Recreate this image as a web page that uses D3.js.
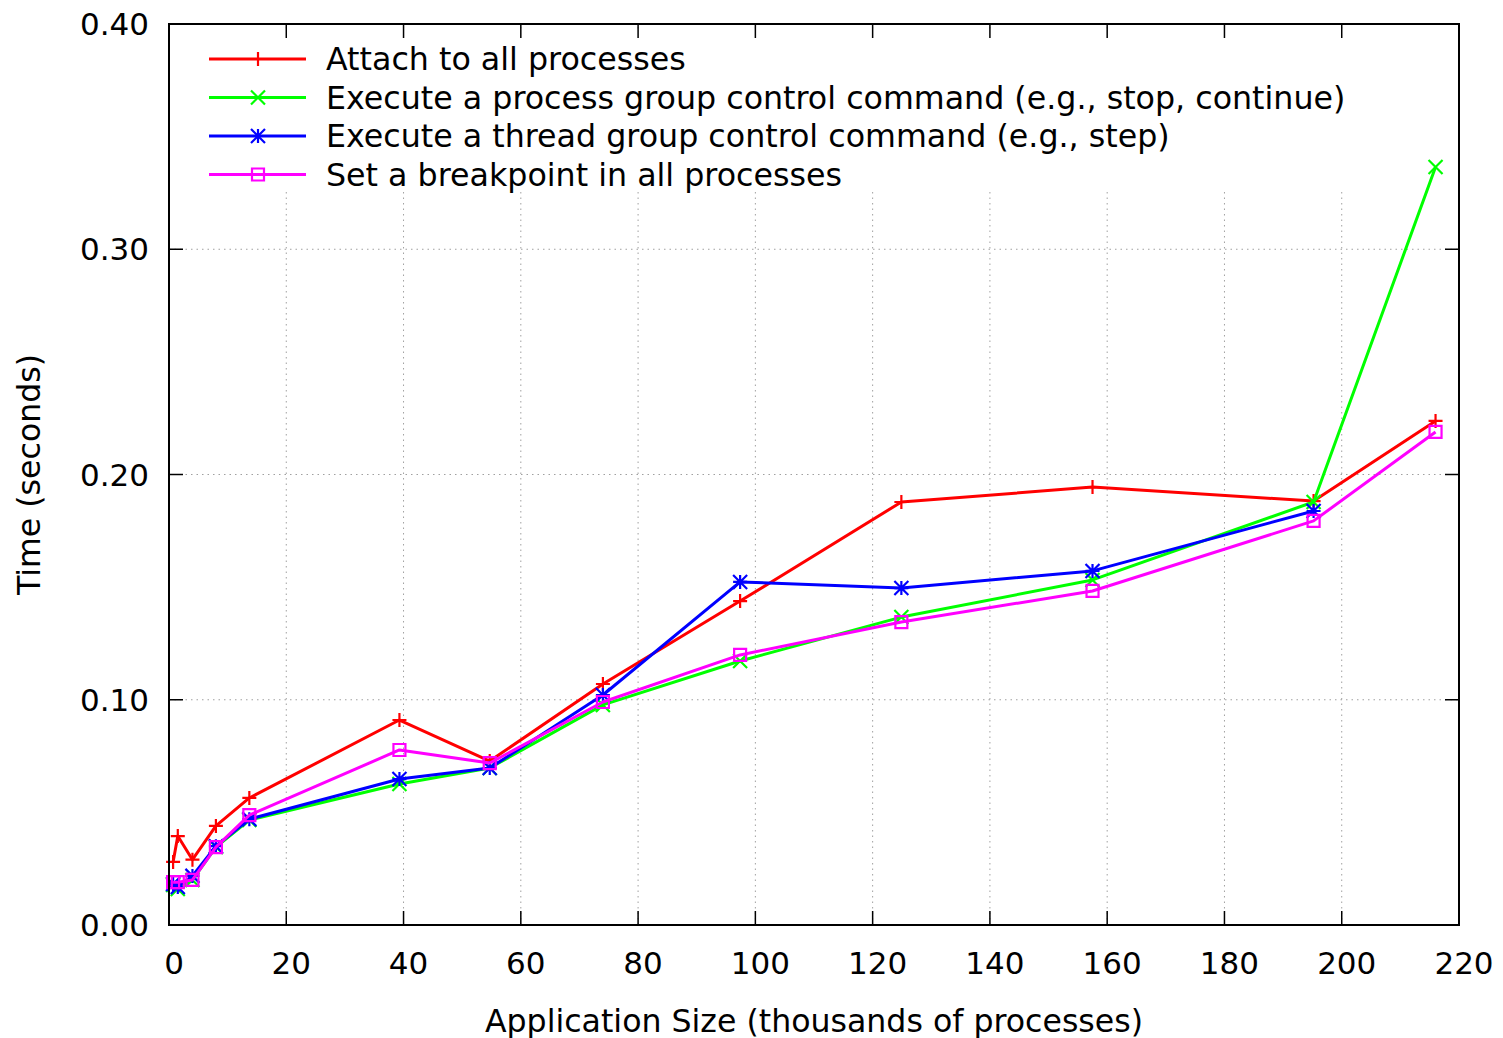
<!DOCTYPE html>
<html lang="en">
<head>
  <meta charset="utf-8">
  <title>Debugger operation time vs application size</title>
  <style>
    body { margin: 0; background: #fff; font-family: "DejaVu Sans", sans-serif; }
    .grid line { stroke: #a0a0a0; stroke-width: 1; stroke-dasharray: 1.5 4; }
    .tick-label { font-size: 31px; fill: #000; }
    .legend-label { font-size: 31.7px; fill: #000; }
    .axis-title { font-size: 31.6px; fill: #000; }
  </style>
</head>
<body>
  <svg id="chart"></svg>

  <script src="https://d3js.org/d3.v7.min.js"></script>
  <script>
    // Application size, thousands of processes
    const sizes = [0.7, 1.5, 4, 8, 13.7, 39.3, 54.7, 74, 97.4, 124.9, 157.5, 195.2, 216];

    // Time in seconds, one array per operation
    const attachAll     = [0.028, 0.0395, 0.029, 0.044, 0.0564, 0.091, 0.0728, 0.107, 0.1438, 0.1878, 0.1944, 0.1882, 0.2238];
    const processGroup  = [0.0178, 0.016, 0.020, 0.0346, 0.0466, 0.0626, 0.0697, 0.0977, 0.1172, 0.1367, 0.1532, 0.1878, 0.3365];
    const threadGroup   = [0.0182, 0.0169, 0.0218, 0.035, 0.047, 0.0648, 0.0697, 0.1021, 0.1523, 0.1496, 0.1572, 0.1838];
    const breakpointAll = [0.019, 0.019, 0.020, 0.0346, 0.0488, 0.0777, 0.0719, 0.099, 0.1199, 0.1345, 0.1483, 0.1794, 0.2189];

    const seriesNames = [
      "Attach to all processes",
      "Execute a process group control command (e.g., stop, continue)",
      "Execute a thread group control command (e.g., step)",
      "Set a breakpoint in all processes"
    ];

    const xTicks = [0, 20, 40, 60, 80, 100, 120, 140, 160, 180, 200, 220];
    const yTicks = [0, 0.1, 0.2, 0.3, 0.4];

    const series = [
      { name: seriesNames[0], values: attachAll,     color: "#ff0000", marker: "plus" },
      { name: seriesNames[1], values: processGroup,  color: "#00ff00", marker: "cross" },
      { name: seriesNames[2], values: threadGroup,   color: "#0000ff", marker: "star" },
      { name: seriesNames[3], values: breakpointAll, color: "#ff00ff", marker: "box" }
    ];

    const width = 1503, height = 1038;
    const margin = { top: 24, right: 44, bottom: 113, left: 169 };

    const svg = d3.select("#chart")
      .attr("width", width)
      .attr("height", height);

    const x = d3.scaleLinear().domain([0, 220]).range([margin.left, width - margin.right]);
    const y = d3.scaleLinear().domain([0, 0.4]).range([height - margin.bottom, margin.top]);

    // grid
    const grid = svg.append("g").attr("class", "grid");
    grid.selectAll(".gx")
      .data(xTicks.slice(1, -1))
      .join("line")
      .attr("x1", d => x(d)).attr("x2", d => x(d))
      .attr("y1", y(0)).attr("y2", y(0.4));
    grid.selectAll(".gy")
      .data(yTicks.slice(1, -1))
      .join("line")
      .attr("x1", x(0)).attr("x2", x(220))
      .attr("y1", d => y(d)).attr("y2", d => y(d));

    // legend box hides grid behind it
    svg.append("rect")
      .attr("x", 198).attr("y", 32)
      .attr("width", 1160).attr("height", 160)
      .attr("fill", "#fff");

    // tick marks, mirrored on all sides
    const ticks = svg.append("g").attr("stroke", "#000").attr("stroke-width", 1.5);
    const tl = 14;
    xTicks.slice(1, -1).forEach(t => {
      ticks.append("line").attr("x1", x(t)).attr("x2", x(t)).attr("y1", y(0)).attr("y2", y(0) - tl);
      ticks.append("line").attr("x1", x(t)).attr("x2", x(t)).attr("y1", y(0.4)).attr("y2", y(0.4) + tl);
    });
    yTicks.slice(1, -1).forEach(t => {
      ticks.append("line").attr("x1", x(0)).attr("x2", x(0) + tl).attr("y1", y(t)).attr("y2", y(t));
      ticks.append("line").attr("x1", x(220)).attr("x2", x(220) - tl).attr("y1", y(t)).attr("y2", y(t));
    });

    // tick labels
    svg.append("g").selectAll("text")
      .data(xTicks)
      .join("text")
      .attr("class", "tick-label")
      .attr("x", d => x(d) + 5)
      .attr("y", y(0) + 49)
      .attr("text-anchor", "middle")
      .text(d => d);
    svg.append("g").selectAll("text")
      .data(yTicks)
      .join("text")
      .attr("class", "tick-label")
      .attr("x", x(0) - 20)
      .attr("y", d => y(d) + 11)
      .attr("text-anchor", "end")
      .text(d => d3.format(".2f")(d));

    // axis titles
    svg.append("text")
      .attr("class", "axis-title")
      .attr("x", 814).attr("y", 1032)
      .attr("text-anchor", "middle")
      .text("Application Size (thousands of processes)");
    svg.append("text")
      .attr("class", "axis-title")
      .attr("transform", `translate(40, ${(y(0) + y(0.4)) / 2}) rotate(-90)`)
      .attr("text-anchor", "middle")
      .text("Time (seconds)");

    function drawMarker(g, type, color) {
      const s = 7;
      const p = g.append("path")
        .attr("fill", "none")
        .attr("stroke", color)
        .attr("stroke-width", 2.2);
      if (type === "plus") {
        p.attr("d", `M${-s},0H${s}M0,${-s}V${s}`);
      } else if (type === "cross") {
        p.attr("d", `M${-s},${-s}L${s},${s}M${-s},${s}L${s},${-s}`);
      } else if (type === "star") {
        p.attr("d", `M${-s},0H${s}M0,${-s}V${s}M${-s},${-s}L${s},${s}M${-s},${s}L${s},${-s}`);
      } else {
        p.attr("d", `M${-s + 1},${-s + 1}H${s - 1}V${s - 1}H${-s + 1}Z`);
      }
    }

    const line = d3.line()
      .x((d, i) => x(sizes[i]))
      .y(d => y(d));

    series.forEach(s => {
      const g = svg.append("g");
      g.append("path")
        .datum(s.values)
        .attr("fill", "none")
        .attr("stroke", s.color)
        .attr("stroke-width", 3)
        .attr("stroke-linejoin", "round")
        .attr("d", line);
      s.values.forEach((v, i) => {
        const m = g.append("g").attr("transform", `translate(${x(sizes[i])},${y(v)})`);
        drawMarker(m, s.marker, s.color);
      });
    });

    // legend
    const legend = svg.append("g");
    series.forEach((s, i) => {
      const ly = 59 + i * 38.5;
      legend.append("line")
        .attr("x1", 209).attr("x2", 306)
        .attr("y1", ly).attr("y2", ly)
        .attr("stroke", s.color).attr("stroke-width", 3);
      const m = legend.append("g").attr("transform", `translate(258,${ly})`);
      drawMarker(m, s.marker, s.color);
      legend.append("text")
        .attr("class", "legend-label")
        .attr("x", 326).attr("y", ly + 11)
        .text(s.name);
    });

    // border
    svg.append("rect")
      .attr("x", x(0)).attr("y", y(0.4))
      .attr("width", x(220) - x(0)).attr("height", y(0) - y(0.4))
      .attr("fill", "none")
      .attr("stroke", "#000")
      .attr("stroke-width", 2);
  </script>
</body>
</html>
